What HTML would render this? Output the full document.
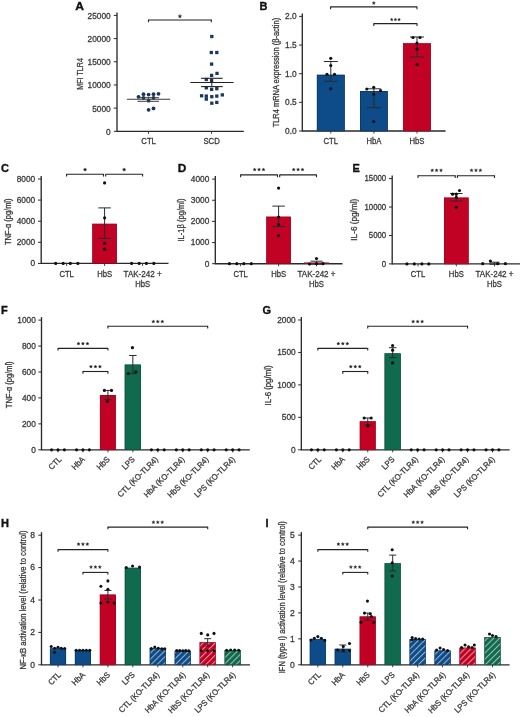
<!DOCTYPE html>
<html><head><meta charset="utf-8"><style>
html,body{margin:0;padding:0;background:#fff;width:520px;height:717px;overflow:hidden;}
svg{display:block;filter:blur(0.3px);font-family:"Liberation Sans", sans-serif;}
text{stroke:#3a3a3a;stroke-width:0.3px;}
</style></head><body>
<svg width="520" height="717" viewBox="0 0 520 717" font-family='"Liberation Sans", sans-serif'>
<defs><pattern id="hb" patternUnits="userSpaceOnUse" width="4.3" height="10" patternTransform="rotate(45)"><rect width="1.0" height="10" fill="#fff" fill-opacity="0.6"/></pattern></defs>
<rect width="520" height="717" fill="#fff"/>
<text transform="translate(75.30,10.20) scale(1.1,1)" font-size="11" text-anchor="start" font-weight="bold" fill="#111" style="stroke:#111;stroke-width:0.35px">A</text>
<line x1="117.00" y1="12.40" x2="117.00" y2="131.80" stroke="#2a2a2a" stroke-width="1.35"/>
<line x1="113.80" y1="131.30" x2="117.00" y2="131.30" stroke="#2a2a2a" stroke-width="1.0"/>
<text transform="translate(110.70,134.70) scale(0.95,1)" font-size="8.774" text-anchor="end" font-weight="normal" fill="#3a3a3a" >0</text>
<line x1="113.80" y1="108.12" x2="117.00" y2="108.12" stroke="#2a2a2a" stroke-width="1.0"/>
<text transform="translate(110.70,111.52) scale(0.95,1)" font-size="8.774" text-anchor="end" font-weight="normal" fill="#3a3a3a" >5000</text>
<line x1="113.80" y1="84.94" x2="117.00" y2="84.94" stroke="#2a2a2a" stroke-width="1.0"/>
<text transform="translate(110.70,88.34) scale(0.95,1)" font-size="8.774" text-anchor="end" font-weight="normal" fill="#3a3a3a" >10000</text>
<line x1="113.80" y1="61.76" x2="117.00" y2="61.76" stroke="#2a2a2a" stroke-width="1.0"/>
<text transform="translate(110.70,65.16) scale(0.95,1)" font-size="8.774" text-anchor="end" font-weight="normal" fill="#3a3a3a" >15000</text>
<line x1="113.80" y1="38.58" x2="117.00" y2="38.58" stroke="#2a2a2a" stroke-width="1.0"/>
<text transform="translate(110.70,41.98) scale(0.95,1)" font-size="8.774" text-anchor="end" font-weight="normal" fill="#3a3a3a" >20000</text>
<line x1="113.80" y1="15.40" x2="117.00" y2="15.40" stroke="#2a2a2a" stroke-width="1.0"/>
<text transform="translate(110.70,18.80) scale(0.95,1)" font-size="8.774" text-anchor="end" font-weight="normal" fill="#3a3a3a" >25000</text>
<line x1="117.00" y1="131.30" x2="243.80" y2="131.30" stroke="#2a2a2a" stroke-width="1.35"/>
<line x1="148.50" y1="131.30" x2="148.50" y2="133.80" stroke="#2a2a2a" stroke-width="0.9"/>
<line x1="211.50" y1="131.30" x2="211.50" y2="133.80" stroke="#2a2a2a" stroke-width="0.9"/>
<text transform="translate(148.60,144.20) scale(0.9,1)" font-size="8.6" text-anchor="middle" font-weight="normal" fill="#3a3a3a" >CTL</text>
<text transform="translate(211.60,144.20) scale(0.9,1)" font-size="8.6" text-anchor="middle" font-weight="normal" fill="#3a3a3a" >SCD</text>
<text transform="translate(79.90,73.90) rotate(-90)" x="-15.75" y="0" font-size="8.8" text-anchor="start" dominant-baseline="central" fill="#3a3a3a" textLength="31.5" lengthAdjust="spacingAndGlyphs">MFI TLR4</text>
<line x1="148.50" y1="20.00" x2="211.30" y2="20.00" stroke="#222" stroke-width="1.1"/>
<line x1="148.50" y1="19.60" x2="148.50" y2="22.20" stroke="#222" stroke-width="1.1"/>
<line x1="211.30" y1="19.60" x2="211.30" y2="22.20" stroke="#222" stroke-width="1.1"/>
<polygon points="179.90,14.47 180.38,15.63 181.64,15.73 180.68,16.55 180.98,17.78 179.90,17.12 178.82,17.78 179.12,16.55 178.16,15.73 179.42,15.63" fill="#222" stroke="#222" stroke-width="0.42" stroke-linejoin="round"/>
<circle cx="143.50" cy="94.20" r="1.9" fill="#19365f"/>
<circle cx="148.60" cy="94.60" r="1.9" fill="#19365f"/>
<circle cx="153.50" cy="94.20" r="1.9" fill="#19365f"/>
<circle cx="158.50" cy="93.80" r="1.9" fill="#19365f"/>
<circle cx="138.50" cy="96.80" r="1.9" fill="#19365f"/>
<circle cx="143.50" cy="97.80" r="1.9" fill="#19365f"/>
<circle cx="148.60" cy="100.70" r="1.9" fill="#19365f"/>
<circle cx="153.50" cy="97.80" r="1.9" fill="#19365f"/>
<circle cx="148.60" cy="109.80" r="1.9" fill="#19365f"/>
<circle cx="153.50" cy="108.40" r="1.9" fill="#19365f"/>
<line x1="126.90" y1="99.20" x2="170.20" y2="99.20" stroke="#3a3a3a" stroke-width="1.1"/>
<line x1="137.50" y1="97.70" x2="159.10" y2="97.70" stroke="#3a3a3a" stroke-width="1.0"/>
<line x1="137.50" y1="101.30" x2="159.10" y2="101.30" stroke="#3a3a3a" stroke-width="1.0"/>
<line x1="148.50" y1="97.70" x2="148.50" y2="101.30" stroke="#3a3a3a" stroke-width="1.0"/>
<rect x="210.15" y="34.85" width="3.3" height="3.3" fill="#19365f"/>
<rect x="209.65" y="50.85" width="3.3" height="3.3" fill="#19365f"/>
<rect x="215.15" y="50.85" width="3.3" height="3.3" fill="#19365f"/>
<rect x="209.95" y="62.45" width="3.3" height="3.3" fill="#19365f"/>
<rect x="209.95" y="73.75" width="3.3" height="3.3" fill="#19365f"/>
<rect x="215.35" y="71.75" width="3.3" height="3.3" fill="#19365f"/>
<rect x="204.65" y="77.85" width="3.3" height="3.3" fill="#19365f"/>
<rect x="209.95" y="79.05" width="3.3" height="3.3" fill="#19365f"/>
<rect x="204.65" y="86.15" width="3.3" height="3.3" fill="#19365f"/>
<rect x="209.95" y="87.75" width="3.3" height="3.3" fill="#19365f"/>
<rect x="215.15" y="87.05" width="3.3" height="3.3" fill="#19365f"/>
<rect x="199.95" y="94.15" width="3.3" height="3.3" fill="#19365f"/>
<rect x="204.65" y="94.45" width="3.3" height="3.3" fill="#19365f"/>
<rect x="204.65" y="97.45" width="3.3" height="3.3" fill="#19365f"/>
<rect x="210.15" y="95.05" width="3.3" height="3.3" fill="#19365f"/>
<rect x="215.15" y="94.45" width="3.3" height="3.3" fill="#19365f"/>
<rect x="220.65" y="93.25" width="3.3" height="3.3" fill="#19365f"/>
<rect x="210.15" y="101.55" width="3.3" height="3.3" fill="#19365f"/>
<rect x="215.15" y="100.75" width="3.3" height="3.3" fill="#19365f"/>
<line x1="190.30" y1="82.50" x2="233.60" y2="82.50" stroke="#222" stroke-width="1.1"/>
<line x1="201.00" y1="78.30" x2="222.70" y2="78.30" stroke="#222" stroke-width="1.1"/>
<line x1="201.00" y1="86.60" x2="222.70" y2="86.60" stroke="#222" stroke-width="1.1"/>
<line x1="211.80" y1="78.30" x2="211.80" y2="86.60" stroke="#222" stroke-width="1.0"/>
<text x="259.40" y="9.70" font-size="11" text-anchor="start" font-weight="bold" fill="#111" style="stroke:#111;stroke-width:0.35px">B</text>
<line x1="302.30" y1="13.40" x2="302.30" y2="131.50" stroke="#2a2a2a" stroke-width="1.35"/>
<line x1="299.10" y1="131.00" x2="302.30" y2="131.00" stroke="#2a2a2a" stroke-width="1.0"/>
<text transform="translate(296.60,133.80) scale(0.95,1)" font-size="8.774" text-anchor="end" font-weight="normal" fill="#3a3a3a" >0.0</text>
<line x1="299.10" y1="102.35" x2="302.30" y2="102.35" stroke="#2a2a2a" stroke-width="1.0"/>
<text transform="translate(296.60,105.15) scale(0.95,1)" font-size="8.774" text-anchor="end" font-weight="normal" fill="#3a3a3a" >0.5</text>
<line x1="299.10" y1="73.70" x2="302.30" y2="73.70" stroke="#2a2a2a" stroke-width="1.0"/>
<text transform="translate(296.60,76.50) scale(0.95,1)" font-size="8.774" text-anchor="end" font-weight="normal" fill="#3a3a3a" >1.0</text>
<line x1="299.10" y1="45.05" x2="302.30" y2="45.05" stroke="#2a2a2a" stroke-width="1.0"/>
<text transform="translate(296.60,47.85) scale(0.95,1)" font-size="8.774" text-anchor="end" font-weight="normal" fill="#3a3a3a" >1.5</text>
<line x1="299.10" y1="16.40" x2="302.30" y2="16.40" stroke="#2a2a2a" stroke-width="1.0"/>
<text transform="translate(296.60,19.20) scale(0.95,1)" font-size="8.774" text-anchor="end" font-weight="normal" fill="#3a3a3a" >2.0</text>
<line x1="302.30" y1="131.00" x2="445.60" y2="131.00" stroke="#2a2a2a" stroke-width="1.35"/>
<line x1="330.80" y1="131.00" x2="330.80" y2="133.50" stroke="#2a2a2a" stroke-width="0.9"/>
<line x1="373.90" y1="131.00" x2="373.90" y2="133.50" stroke="#2a2a2a" stroke-width="0.9"/>
<line x1="417.00" y1="131.00" x2="417.00" y2="133.50" stroke="#2a2a2a" stroke-width="0.9"/>
<rect x="316.90" y="74.80" width="27.80" height="56.20" fill="#0d4c88"/>
<rect x="317.20" y="75.10" width="27.20" height="55.90" fill="none" stroke="#0a3058" stroke-width="0.6"/>
<rect x="360.00" y="91.00" width="27.80" height="40.00" fill="#0d4c88"/>
<rect x="360.30" y="91.30" width="27.20" height="39.70" fill="none" stroke="#0a3058" stroke-width="0.6"/>
<rect x="403.10" y="43.30" width="27.80" height="87.70" fill="#c10224"/>
<rect x="403.40" y="43.60" width="27.20" height="87.40" fill="none" stroke="#8e0a22" stroke-width="0.6"/>
<text transform="translate(330.80,144.30) scale(0.88,1)" font-size="8.8" text-anchor="middle" font-weight="normal" fill="#3a3a3a" >CTL</text>
<text transform="translate(373.90,144.30) scale(0.88,1)" font-size="8.8" text-anchor="middle" font-weight="normal" fill="#3a3a3a" >HbA</text>
<text transform="translate(417.00,144.30) scale(0.88,1)" font-size="8.8" text-anchor="middle" font-weight="normal" fill="#3a3a3a" >HbS</text>
<text transform="translate(276.00,72.60) rotate(-90)" x="-54.75" y="0" font-size="8.8" text-anchor="start" dominant-baseline="central" fill="#3a3a3a" textLength="109.5" lengthAdjust="spacingAndGlyphs">TLR4 mRNA expression (β-actin)</text>
<line x1="330.80" y1="61.50" x2="330.80" y2="81.30" stroke="#2a2a2a" stroke-width="1.0"/>
<line x1="323.80" y1="61.50" x2="337.80" y2="61.50" stroke="#2a2a2a" stroke-width="1.0"/>
<line x1="323.80" y1="81.30" x2="337.80" y2="81.30" stroke="#2a2a2a" stroke-width="1.0"/>
<line x1="373.90" y1="88.80" x2="373.90" y2="107.70" stroke="#2a2a2a" stroke-width="1.0"/>
<line x1="366.90" y1="88.80" x2="380.90" y2="88.80" stroke="#2a2a2a" stroke-width="1.0"/>
<line x1="366.90" y1="107.70" x2="380.90" y2="107.70" stroke="#2a2a2a" stroke-width="1.0"/>
<line x1="417.00" y1="37.00" x2="417.00" y2="57.00" stroke="#2a2a2a" stroke-width="1.0"/>
<line x1="410.00" y1="37.00" x2="424.00" y2="37.00" stroke="#2a2a2a" stroke-width="1.0"/>
<line x1="410.00" y1="57.00" x2="424.00" y2="57.00" stroke="#2a2a2a" stroke-width="1.0"/>
<circle cx="330.75" cy="58.30" r="1.6" fill="#111"/>
<circle cx="330.75" cy="65.50" r="1.6" fill="#111"/>
<circle cx="327.00" cy="74.30" r="1.6" fill="#111"/>
<circle cx="334.50" cy="74.30" r="1.6" fill="#111"/>
<circle cx="330.75" cy="88.80" r="1.6" fill="#111"/>
<circle cx="366.80" cy="89.00" r="1.6" fill="#111"/>
<circle cx="373.70" cy="87.30" r="1.6" fill="#111"/>
<circle cx="380.60" cy="90.70" r="1.6" fill="#111"/>
<circle cx="373.70" cy="94.20" r="1.6" fill="#111"/>
<circle cx="373.70" cy="121.50" r="1.6" fill="#111"/>
<circle cx="413.00" cy="37.50" r="1.6" fill="#111"/>
<circle cx="420.00" cy="37.50" r="1.6" fill="#111"/>
<circle cx="417.00" cy="43.00" r="1.6" fill="#111"/>
<circle cx="417.00" cy="49.00" r="1.6" fill="#111"/>
<circle cx="417.00" cy="64.50" r="1.6" fill="#111"/>
<line x1="330.60" y1="6.90" x2="417.00" y2="6.90" stroke="#222" stroke-width="1.1"/>
<line x1="330.60" y1="6.50" x2="330.60" y2="9.30" stroke="#222" stroke-width="1.1"/>
<line x1="417.00" y1="6.50" x2="417.00" y2="9.30" stroke="#222" stroke-width="1.1"/>
<polygon points="373.80,1.40 374.24,2.45 375.37,2.54 374.50,3.28 374.77,4.38 373.80,3.79 372.83,4.38 373.10,3.28 372.23,2.54 373.36,2.45" fill="#222" stroke="#222" stroke-width="0.39" stroke-linejoin="round"/>
<line x1="373.80" y1="23.60" x2="417.00" y2="23.60" stroke="#222" stroke-width="1.1"/>
<line x1="373.80" y1="23.20" x2="373.80" y2="26.00" stroke="#222" stroke-width="1.1"/>
<line x1="417.00" y1="23.20" x2="417.00" y2="26.00" stroke="#222" stroke-width="1.1"/>
<polygon points="391.73,18.09 392.12,19.02 393.12,19.10 392.36,19.75 392.59,20.73 391.73,20.21 390.87,20.73 391.10,19.75 390.34,19.10 391.34,19.02" fill="#222" stroke="#222" stroke-width="0.33" stroke-linejoin="round"/>
<polygon points="395.40,18.09 395.79,19.02 396.79,19.10 396.03,19.75 396.26,20.73 395.40,20.21 394.54,20.73 394.77,19.75 394.01,19.10 395.01,19.02" fill="#222" stroke="#222" stroke-width="0.33" stroke-linejoin="round"/>
<polygon points="399.07,18.09 399.46,19.02 400.46,19.10 399.70,19.75 399.93,20.73 399.07,20.21 398.21,20.73 398.44,19.75 397.68,19.10 398.68,19.02" fill="#222" stroke="#222" stroke-width="0.33" stroke-linejoin="round"/>
<text x="0.90" y="172.00" font-size="11" text-anchor="start" font-weight="bold" fill="#111" style="stroke:#111;stroke-width:0.35px">C</text>
<line x1="41.20" y1="176.00" x2="41.20" y2="263.90" stroke="#2a2a2a" stroke-width="1.35"/>
<line x1="38.00" y1="263.40" x2="41.20" y2="263.40" stroke="#2a2a2a" stroke-width="1.0"/>
<text transform="translate(35.20,266.20) scale(0.95,1)" font-size="8.774" text-anchor="end" font-weight="normal" fill="#3a3a3a" >0</text>
<line x1="38.00" y1="242.30" x2="41.20" y2="242.30" stroke="#2a2a2a" stroke-width="1.0"/>
<text transform="translate(35.20,245.10) scale(0.95,1)" font-size="8.774" text-anchor="end" font-weight="normal" fill="#3a3a3a" >2000</text>
<line x1="38.00" y1="221.20" x2="41.20" y2="221.20" stroke="#2a2a2a" stroke-width="1.0"/>
<text transform="translate(35.20,224.00) scale(0.95,1)" font-size="8.774" text-anchor="end" font-weight="normal" fill="#3a3a3a" >4000</text>
<line x1="38.00" y1="200.10" x2="41.20" y2="200.10" stroke="#2a2a2a" stroke-width="1.0"/>
<text transform="translate(35.20,202.90) scale(0.95,1)" font-size="8.774" text-anchor="end" font-weight="normal" fill="#3a3a3a" >6000</text>
<line x1="38.00" y1="179.00" x2="41.20" y2="179.00" stroke="#2a2a2a" stroke-width="1.0"/>
<text transform="translate(35.20,181.80) scale(0.95,1)" font-size="8.774" text-anchor="end" font-weight="normal" fill="#3a3a3a" >8000</text>
<line x1="41.20" y1="263.40" x2="168.50" y2="263.40" stroke="#2a2a2a" stroke-width="1.35"/>
<line x1="66.60" y1="263.40" x2="66.60" y2="265.90" stroke="#2a2a2a" stroke-width="0.9"/>
<line x1="104.60" y1="263.40" x2="104.60" y2="265.90" stroke="#2a2a2a" stroke-width="0.9"/>
<line x1="142.60" y1="263.40" x2="142.60" y2="265.90" stroke="#2a2a2a" stroke-width="0.9"/>
<rect x="92.30" y="223.80" width="24.60" height="39.60" fill="#c10224"/>
<rect x="92.60" y="224.10" width="24.00" height="39.30" fill="none" stroke="#8e0a22" stroke-width="0.6"/>
<line x1="104.60" y1="207.90" x2="104.60" y2="238.40" stroke="#2a2a2a" stroke-width="1.0"/>
<line x1="98.35" y1="207.90" x2="110.85" y2="207.90" stroke="#2a2a2a" stroke-width="1.0"/>
<line x1="98.35" y1="238.40" x2="110.85" y2="238.40" stroke="#2a2a2a" stroke-width="1.0"/>
<circle cx="104.60" cy="182.90" r="1.6" fill="#111"/>
<circle cx="104.60" cy="217.80" r="1.6" fill="#111"/>
<circle cx="104.60" cy="243.30" r="1.6" fill="#111"/>
<circle cx="104.60" cy="249.20" r="1.6" fill="#111"/>
<circle cx="55.70" cy="263.40" r="1.6" fill="#111"/>
<circle cx="63.20" cy="263.40" r="1.6" fill="#111"/>
<circle cx="70.30" cy="263.40" r="1.6" fill="#111"/>
<circle cx="77.90" cy="263.40" r="1.6" fill="#111"/>
<circle cx="131.60" cy="263.40" r="1.6" fill="#111"/>
<circle cx="139.20" cy="263.40" r="1.6" fill="#111"/>
<circle cx="146.40" cy="263.40" r="1.6" fill="#111"/>
<circle cx="153.80" cy="263.40" r="1.6" fill="#111"/>
<text transform="translate(66.60,276.80) scale(0.89,1)" font-size="8.6" text-anchor="middle" font-weight="normal" fill="#3a3a3a" >CTL</text>
<text transform="translate(104.60,276.80) scale(0.89,1)" font-size="8.6" text-anchor="middle" font-weight="normal" fill="#3a3a3a" >HbS</text>
<text x="123.60" y="276.8" font-size="8.6" fill="#3a3a3a" textLength="38" lengthAdjust="spacingAndGlyphs">TAK-242 +</text>
<text transform="translate(142.60,287.00) scale(0.89,1)" font-size="8.6" text-anchor="middle" font-weight="normal" fill="#3a3a3a" >HbS</text>
<text transform="translate(8.40,221.80) rotate(-90)" x="-23.30" y="0" font-size="8.8" text-anchor="start" dominant-baseline="central" fill="#3a3a3a" textLength="46.6" lengthAdjust="spacingAndGlyphs">TNF-α (pg/ml)</text>
<line x1="66.60" y1="174.30" x2="103.50" y2="174.30" stroke="#222" stroke-width="1.1"/>
<line x1="66.60" y1="173.90" x2="66.60" y2="176.60" stroke="#222" stroke-width="1.1"/>
<line x1="103.50" y1="173.90" x2="103.50" y2="176.60" stroke="#222" stroke-width="1.1"/>
<polygon points="85.05,167.88 85.52,169.01 86.73,169.10 85.81,169.90 86.09,171.08 85.05,170.45 84.01,171.08 84.29,169.90 83.37,169.10 84.58,169.01" fill="#222" stroke="#222" stroke-width="0.42" stroke-linejoin="round"/>
<line x1="105.70" y1="174.30" x2="142.60" y2="174.30" stroke="#222" stroke-width="1.1"/>
<line x1="105.70" y1="173.90" x2="105.70" y2="176.60" stroke="#222" stroke-width="1.1"/>
<line x1="142.60" y1="173.90" x2="142.60" y2="176.60" stroke="#222" stroke-width="1.1"/>
<polygon points="124.15,167.88 124.62,169.01 125.83,169.10 124.91,169.90 125.19,171.08 124.15,170.45 123.11,171.08 123.39,169.90 122.47,169.10 123.68,169.01" fill="#222" stroke="#222" stroke-width="0.42" stroke-linejoin="round"/>
<text transform="translate(177.80,172.00) scale(1.08,1)" font-size="11" text-anchor="start" font-weight="bold" fill="#111" style="stroke:#111;stroke-width:0.35px">D</text>
<line x1="215.30" y1="176.10" x2="215.30" y2="264.20" stroke="#2a2a2a" stroke-width="1.35"/>
<line x1="212.10" y1="263.70" x2="215.30" y2="263.70" stroke="#2a2a2a" stroke-width="1.0"/>
<text transform="translate(209.30,266.50) scale(0.95,1)" font-size="8.774" text-anchor="end" font-weight="normal" fill="#3a3a3a" >0</text>
<line x1="212.10" y1="242.55" x2="215.30" y2="242.55" stroke="#2a2a2a" stroke-width="1.0"/>
<text transform="translate(209.30,245.35) scale(0.95,1)" font-size="8.774" text-anchor="end" font-weight="normal" fill="#3a3a3a" >1000</text>
<line x1="212.10" y1="221.40" x2="215.30" y2="221.40" stroke="#2a2a2a" stroke-width="1.0"/>
<text transform="translate(209.30,224.20) scale(0.95,1)" font-size="8.774" text-anchor="end" font-weight="normal" fill="#3a3a3a" >2000</text>
<line x1="212.10" y1="200.25" x2="215.30" y2="200.25" stroke="#2a2a2a" stroke-width="1.0"/>
<text transform="translate(209.30,203.05) scale(0.95,1)" font-size="8.774" text-anchor="end" font-weight="normal" fill="#3a3a3a" >3000</text>
<line x1="212.10" y1="179.10" x2="215.30" y2="179.10" stroke="#2a2a2a" stroke-width="1.0"/>
<text transform="translate(209.30,181.90) scale(0.95,1)" font-size="8.774" text-anchor="end" font-weight="normal" fill="#3a3a3a" >4000</text>
<line x1="215.30" y1="263.70" x2="342.50" y2="263.70" stroke="#2a2a2a" stroke-width="1.35"/>
<line x1="240.60" y1="263.70" x2="240.60" y2="266.20" stroke="#2a2a2a" stroke-width="0.9"/>
<line x1="278.60" y1="263.70" x2="278.60" y2="266.20" stroke="#2a2a2a" stroke-width="0.9"/>
<line x1="316.50" y1="263.70" x2="316.50" y2="266.20" stroke="#2a2a2a" stroke-width="0.9"/>
<rect x="266.30" y="216.70" width="24.60" height="47.00" fill="#c10224"/>
<rect x="266.60" y="217.00" width="24.00" height="46.70" fill="none" stroke="#8e0a22" stroke-width="0.6"/>
<rect x="304.00" y="262.40" width="25.00" height="1.30" fill="#9a1a30"/>
<line x1="316.50" y1="261.20" x2="316.50" y2="264.20" stroke="#2a2a2a" stroke-width="1.0"/>
<line x1="310.50" y1="261.20" x2="322.50" y2="261.20" stroke="#2a2a2a" stroke-width="1.0"/>
<line x1="310.50" y1="264.20" x2="322.50" y2="264.20" stroke="#2a2a2a" stroke-width="1.0"/>
<line x1="278.60" y1="206.10" x2="278.60" y2="226.60" stroke="#2a2a2a" stroke-width="1.0"/>
<line x1="272.35" y1="206.10" x2="284.85" y2="206.10" stroke="#2a2a2a" stroke-width="1.0"/>
<line x1="272.35" y1="226.60" x2="284.85" y2="226.60" stroke="#2a2a2a" stroke-width="1.0"/>
<circle cx="278.60" cy="188.10" r="1.6" fill="#111"/>
<circle cx="278.60" cy="217.10" r="1.6" fill="#111"/>
<circle cx="278.60" cy="224.50" r="1.6" fill="#111"/>
<circle cx="278.60" cy="235.70" r="1.6" fill="#111"/>
<circle cx="229.40" cy="263.70" r="1.6" fill="#111"/>
<circle cx="236.80" cy="263.70" r="1.6" fill="#111"/>
<circle cx="243.80" cy="263.70" r="1.6" fill="#111"/>
<circle cx="251.30" cy="263.70" r="1.6" fill="#111"/>
<circle cx="309.50" cy="264.00" r="1.6" fill="#111"/>
<circle cx="316.50" cy="258.50" r="1.6" fill="#111"/>
<circle cx="316.50" cy="263.70" r="1.6" fill="#111"/>
<circle cx="323.00" cy="263.70" r="1.6" fill="#111"/>
<text transform="translate(240.60,276.80) scale(0.89,1)" font-size="8.6" text-anchor="middle" font-weight="normal" fill="#3a3a3a" >CTL</text>
<text transform="translate(278.60,276.80) scale(0.89,1)" font-size="8.6" text-anchor="middle" font-weight="normal" fill="#3a3a3a" >HbS</text>
<text x="297.50" y="276.8" font-size="8.6" fill="#3a3a3a" textLength="38" lengthAdjust="spacingAndGlyphs">TAK-242 +</text>
<text transform="translate(316.50,287.00) scale(0.89,1)" font-size="8.6" text-anchor="middle" font-weight="normal" fill="#3a3a3a" >HbS</text>
<text transform="translate(181.40,220.00) rotate(-90)" x="-21.50" y="0" font-size="8.8" text-anchor="start" dominant-baseline="central" fill="#3a3a3a" textLength="43" lengthAdjust="spacingAndGlyphs">IL-1β (pg/ml)</text>
<line x1="240.60" y1="174.90" x2="277.50" y2="174.90" stroke="#222" stroke-width="1.1"/>
<line x1="240.60" y1="174.50" x2="240.60" y2="177.20" stroke="#222" stroke-width="1.1"/>
<line x1="277.50" y1="174.50" x2="277.50" y2="177.20" stroke="#222" stroke-width="1.1"/>
<polygon points="254.65,167.90 255.09,168.95 256.22,169.04 255.35,169.78 255.62,170.88 254.65,170.29 253.68,170.88 253.95,169.78 253.08,169.04 254.21,168.95" fill="#222" stroke="#222" stroke-width="0.35" stroke-linejoin="round"/>
<polygon points="259.05,167.90 259.49,168.95 260.62,169.04 259.75,169.78 260.02,170.88 259.05,170.29 258.08,170.88 258.35,169.78 257.48,169.04 258.61,168.95" fill="#222" stroke="#222" stroke-width="0.35" stroke-linejoin="round"/>
<polygon points="263.45,167.90 263.89,168.95 265.02,169.04 264.15,169.78 264.42,170.88 263.45,170.29 262.48,170.88 262.75,169.78 261.88,169.04 263.01,168.95" fill="#222" stroke="#222" stroke-width="0.35" stroke-linejoin="round"/>
<line x1="279.70" y1="174.90" x2="316.50" y2="174.90" stroke="#222" stroke-width="1.1"/>
<line x1="279.70" y1="174.50" x2="279.70" y2="177.20" stroke="#222" stroke-width="1.1"/>
<line x1="316.50" y1="174.50" x2="316.50" y2="177.20" stroke="#222" stroke-width="1.1"/>
<polygon points="293.70,167.90 294.14,168.95 295.27,169.04 294.40,169.78 294.67,170.88 293.70,170.29 292.73,170.88 293.00,169.78 292.13,169.04 293.26,168.95" fill="#222" stroke="#222" stroke-width="0.35" stroke-linejoin="round"/>
<polygon points="298.10,167.90 298.54,168.95 299.67,169.04 298.80,169.78 299.07,170.88 298.10,170.29 297.13,170.88 297.40,169.78 296.53,169.04 297.66,168.95" fill="#222" stroke="#222" stroke-width="0.35" stroke-linejoin="round"/>
<polygon points="302.50,167.90 302.94,168.95 304.07,169.04 303.20,169.78 303.47,170.88 302.50,170.29 301.53,170.88 301.80,169.78 300.93,169.04 302.06,168.95" fill="#222" stroke="#222" stroke-width="0.35" stroke-linejoin="round"/>
<text x="352.40" y="172.00" font-size="11" text-anchor="start" font-weight="bold" fill="#111" style="stroke:#111;stroke-width:0.35px">E</text>
<line x1="392.20" y1="175.61" x2="392.20" y2="264.40" stroke="#2a2a2a" stroke-width="1.35"/>
<line x1="389.00" y1="263.90" x2="392.20" y2="263.90" stroke="#2a2a2a" stroke-width="1.0"/>
<text transform="translate(386.20,266.70) scale(0.95,1)" font-size="8.239" text-anchor="end" font-weight="normal" fill="#3a3a3a" >0</text>
<line x1="389.00" y1="235.47" x2="392.20" y2="235.47" stroke="#2a2a2a" stroke-width="1.0"/>
<text transform="translate(386.20,238.27) scale(0.95,1)" font-size="8.239" text-anchor="end" font-weight="normal" fill="#3a3a3a" >5000</text>
<line x1="389.00" y1="207.04" x2="392.20" y2="207.04" stroke="#2a2a2a" stroke-width="1.0"/>
<text transform="translate(386.20,209.84) scale(0.95,1)" font-size="8.239" text-anchor="end" font-weight="normal" fill="#3a3a3a" >10000</text>
<line x1="389.00" y1="178.61" x2="392.20" y2="178.61" stroke="#2a2a2a" stroke-width="1.0"/>
<text transform="translate(386.20,181.41) scale(0.95,1)" font-size="8.239" text-anchor="end" font-weight="normal" fill="#3a3a3a" >15000</text>
<line x1="392.20" y1="263.90" x2="520.00" y2="263.90" stroke="#2a2a2a" stroke-width="1.35"/>
<line x1="418.00" y1="263.90" x2="418.00" y2="266.40" stroke="#2a2a2a" stroke-width="0.9"/>
<line x1="456.30" y1="263.90" x2="456.30" y2="266.40" stroke="#2a2a2a" stroke-width="0.9"/>
<line x1="494.50" y1="263.90" x2="494.50" y2="266.40" stroke="#2a2a2a" stroke-width="0.9"/>
<rect x="444.00" y="197.60" width="24.60" height="66.30" fill="#c10224"/>
<rect x="444.30" y="197.90" width="24.00" height="66.00" fill="none" stroke="#8e0a22" stroke-width="0.6"/>
<line x1="494.50" y1="262.20" x2="494.50" y2="264.20" stroke="#2a2a2a" stroke-width="1.0"/>
<line x1="489.50" y1="262.20" x2="499.50" y2="262.20" stroke="#2a2a2a" stroke-width="1.0"/>
<line x1="489.50" y1="264.20" x2="499.50" y2="264.20" stroke="#2a2a2a" stroke-width="1.0"/>
<line x1="456.30" y1="193.50" x2="456.30" y2="201.10" stroke="#2a2a2a" stroke-width="1.0"/>
<line x1="450.05" y1="193.50" x2="462.55" y2="193.50" stroke="#2a2a2a" stroke-width="1.0"/>
<line x1="450.05" y1="201.10" x2="462.55" y2="201.10" stroke="#2a2a2a" stroke-width="1.0"/>
<circle cx="456.30" cy="194.20" r="1.6" fill="#111"/>
<circle cx="456.30" cy="197.40" r="1.6" fill="#111"/>
<circle cx="456.30" cy="207.30" r="1.6" fill="#111"/>
<circle cx="406.90" cy="263.90" r="1.6" fill="#111"/>
<circle cx="414.30" cy="263.90" r="1.6" fill="#111"/>
<circle cx="421.90" cy="263.90" r="1.6" fill="#111"/>
<circle cx="428.80" cy="263.90" r="1.6" fill="#111"/>
<circle cx="482.70" cy="263.70" r="1.6" fill="#111"/>
<circle cx="490.40" cy="261.00" r="1.6" fill="#111"/>
<circle cx="497.70" cy="263.70" r="1.6" fill="#111"/>
<circle cx="505.40" cy="263.70" r="1.6" fill="#111"/>
<text transform="translate(418.00,276.80) scale(0.89,1)" font-size="8.6" text-anchor="middle" font-weight="normal" fill="#3a3a3a" >CTL</text>
<text transform="translate(456.30,276.80) scale(0.89,1)" font-size="8.6" text-anchor="middle" font-weight="normal" fill="#3a3a3a" >HbS</text>
<text x="475.50" y="276.8" font-size="8.6" fill="#3a3a3a" textLength="38" lengthAdjust="spacingAndGlyphs">TAK-242 +</text>
<text transform="translate(494.50,287.00) scale(0.89,1)" font-size="8.6" text-anchor="middle" font-weight="normal" fill="#3a3a3a" >HbS</text>
<text transform="translate(353.90,219.70) rotate(-90)" x="-21.00" y="0" font-size="8.8" text-anchor="start" dominant-baseline="central" fill="#3a3a3a" textLength="42" lengthAdjust="spacingAndGlyphs">IL-6 (pg/ml)</text>
<line x1="418.00" y1="175.70" x2="455.20" y2="175.70" stroke="#222" stroke-width="1.1"/>
<line x1="418.00" y1="175.30" x2="418.00" y2="178.00" stroke="#222" stroke-width="1.1"/>
<line x1="455.20" y1="175.30" x2="455.20" y2="178.00" stroke="#222" stroke-width="1.1"/>
<polygon points="432.20,168.70 432.64,169.75 433.77,169.84 432.90,170.58 433.17,171.68 432.20,171.09 431.23,171.68 431.50,170.58 430.63,169.84 431.76,169.75" fill="#222" stroke="#222" stroke-width="0.35" stroke-linejoin="round"/>
<polygon points="436.60,168.70 437.04,169.75 438.17,169.84 437.30,170.58 437.57,171.68 436.60,171.09 435.63,171.68 435.90,170.58 435.03,169.84 436.16,169.75" fill="#222" stroke="#222" stroke-width="0.35" stroke-linejoin="round"/>
<polygon points="441.00,168.70 441.44,169.75 442.57,169.84 441.70,170.58 441.97,171.68 441.00,171.09 440.03,171.68 440.30,170.58 439.43,169.84 440.56,169.75" fill="#222" stroke="#222" stroke-width="0.35" stroke-linejoin="round"/>
<line x1="457.40" y1="175.70" x2="494.50" y2="175.70" stroke="#222" stroke-width="1.1"/>
<line x1="457.40" y1="175.30" x2="457.40" y2="178.00" stroke="#222" stroke-width="1.1"/>
<line x1="494.50" y1="175.30" x2="494.50" y2="178.00" stroke="#222" stroke-width="1.1"/>
<polygon points="471.55,168.70 471.99,169.75 473.12,169.84 472.25,170.58 472.52,171.68 471.55,171.09 470.58,171.68 470.85,170.58 469.98,169.84 471.11,169.75" fill="#222" stroke="#222" stroke-width="0.35" stroke-linejoin="round"/>
<polygon points="475.95,168.70 476.39,169.75 477.52,169.84 476.65,170.58 476.92,171.68 475.95,171.09 474.98,171.68 475.25,170.58 474.38,169.84 475.51,169.75" fill="#222" stroke="#222" stroke-width="0.35" stroke-linejoin="round"/>
<polygon points="480.35,168.70 480.79,169.75 481.92,169.84 481.05,170.58 481.32,171.68 480.35,171.09 479.38,171.68 479.65,170.58 478.78,169.84 479.91,169.75" fill="#222" stroke="#222" stroke-width="0.35" stroke-linejoin="round"/>
<circle cx="459.50" cy="190.50" r="1.6" fill="#111"/>
<circle cx="452.60" cy="194.20" r="1.6" fill="#111"/>
<text x="0.90" y="313.80" font-size="11" text-anchor="start" font-weight="bold" fill="#111" style="stroke:#111;stroke-width:0.35px">F</text>
<line x1="41.50" y1="317.10" x2="41.50" y2="450.30" stroke="#2a2a2a" stroke-width="1.35"/>
<line x1="38.30" y1="449.80" x2="41.50" y2="449.80" stroke="#2a2a2a" stroke-width="1.0"/>
<text transform="translate(35.80,452.60) scale(0.95,1)" font-size="8.774" text-anchor="end" font-weight="normal" fill="#3a3a3a" >0</text>
<line x1="38.30" y1="423.86" x2="41.50" y2="423.86" stroke="#2a2a2a" stroke-width="1.0"/>
<text transform="translate(35.80,426.66) scale(0.95,1)" font-size="8.774" text-anchor="end" font-weight="normal" fill="#3a3a3a" >200</text>
<line x1="38.30" y1="397.92" x2="41.50" y2="397.92" stroke="#2a2a2a" stroke-width="1.0"/>
<text transform="translate(35.80,400.72) scale(0.95,1)" font-size="8.774" text-anchor="end" font-weight="normal" fill="#3a3a3a" >400</text>
<line x1="38.30" y1="371.98" x2="41.50" y2="371.98" stroke="#2a2a2a" stroke-width="1.0"/>
<text transform="translate(35.80,374.78) scale(0.95,1)" font-size="8.774" text-anchor="end" font-weight="normal" fill="#3a3a3a" >600</text>
<line x1="38.30" y1="346.04" x2="41.50" y2="346.04" stroke="#2a2a2a" stroke-width="1.0"/>
<text transform="translate(35.80,348.84) scale(0.95,1)" font-size="8.774" text-anchor="end" font-weight="normal" fill="#3a3a3a" >800</text>
<line x1="38.30" y1="320.10" x2="41.50" y2="320.10" stroke="#2a2a2a" stroke-width="1.0"/>
<text transform="translate(35.80,322.90) scale(0.95,1)" font-size="8.774" text-anchor="end" font-weight="normal" fill="#3a3a3a" >1000</text>
<line x1="41.50" y1="449.80" x2="249.80" y2="449.80" stroke="#2a2a2a" stroke-width="1.35"/>
<line x1="58.00" y1="449.80" x2="58.00" y2="452.30" stroke="#2a2a2a" stroke-width="0.9"/>
<line x1="82.95" y1="449.80" x2="82.95" y2="452.30" stroke="#2a2a2a" stroke-width="0.9"/>
<line x1="107.90" y1="449.80" x2="107.90" y2="452.30" stroke="#2a2a2a" stroke-width="0.9"/>
<line x1="132.85" y1="449.80" x2="132.85" y2="452.30" stroke="#2a2a2a" stroke-width="0.9"/>
<line x1="157.80" y1="449.80" x2="157.80" y2="452.30" stroke="#2a2a2a" stroke-width="0.9"/>
<line x1="182.75" y1="449.80" x2="182.75" y2="452.30" stroke="#2a2a2a" stroke-width="0.9"/>
<line x1="207.70" y1="449.80" x2="207.70" y2="452.30" stroke="#2a2a2a" stroke-width="0.9"/>
<line x1="232.65" y1="449.80" x2="232.65" y2="452.30" stroke="#2a2a2a" stroke-width="0.9"/>
<rect x="99.95" y="395.00" width="15.90" height="54.80" fill="#c10224"/>
<rect x="100.25" y="395.30" width="15.30" height="54.50" fill="none" stroke="#8e0a22" stroke-width="0.6"/>
<rect x="124.75" y="364.60" width="16.20" height="85.20" fill="#0f6a4e"/>
<rect x="125.05" y="364.90" width="15.60" height="84.90" fill="none" stroke="#0a4a37" stroke-width="0.6"/>
<line x1="107.90" y1="390.40" x2="107.90" y2="399.60" stroke="#2a2a2a" stroke-width="1.0"/>
<line x1="104.30" y1="390.40" x2="111.50" y2="390.40" stroke="#2a2a2a" stroke-width="1.0"/>
<line x1="104.30" y1="399.60" x2="111.50" y2="399.60" stroke="#2a2a2a" stroke-width="1.0"/>
<line x1="132.85" y1="355.50" x2="132.85" y2="373.60" stroke="#2a2a2a" stroke-width="1.0"/>
<line x1="129.15" y1="355.50" x2="136.55" y2="355.50" stroke="#2a2a2a" stroke-width="1.0"/>
<line x1="129.15" y1="373.60" x2="136.55" y2="373.60" stroke="#2a2a2a" stroke-width="1.0"/>
<circle cx="104.40" cy="390.40" r="1.6" fill="#111"/>
<circle cx="111.50" cy="390.40" r="1.6" fill="#111"/>
<circle cx="107.40" cy="401.40" r="1.6" fill="#111"/>
<circle cx="132.45" cy="347.70" r="1.6" fill="#111"/>
<circle cx="128.25" cy="373.50" r="1.6" fill="#111"/>
<circle cx="135.85" cy="371.80" r="1.6" fill="#111"/>
<circle cx="51.60" cy="449.80" r="1.6" fill="#111"/>
<circle cx="58.00" cy="449.80" r="1.6" fill="#111"/>
<circle cx="64.40" cy="449.80" r="1.6" fill="#111"/>
<circle cx="76.55" cy="449.80" r="1.6" fill="#111"/>
<circle cx="82.95" cy="449.80" r="1.6" fill="#111"/>
<circle cx="89.35" cy="449.80" r="1.6" fill="#111"/>
<circle cx="151.40" cy="449.80" r="1.6" fill="#111"/>
<circle cx="157.80" cy="449.80" r="1.6" fill="#111"/>
<circle cx="164.20" cy="449.80" r="1.6" fill="#111"/>
<circle cx="176.35" cy="449.80" r="1.6" fill="#111"/>
<circle cx="182.75" cy="449.80" r="1.6" fill="#111"/>
<circle cx="189.15" cy="449.80" r="1.6" fill="#111"/>
<circle cx="201.30" cy="449.80" r="1.6" fill="#111"/>
<circle cx="207.70" cy="449.80" r="1.6" fill="#111"/>
<circle cx="214.10" cy="449.80" r="1.6" fill="#111"/>
<circle cx="226.25" cy="449.80" r="1.6" fill="#111"/>
<circle cx="232.65" cy="449.80" r="1.6" fill="#111"/>
<circle cx="239.05" cy="449.80" r="1.6" fill="#111"/>
<text transform="translate(62.00,460.00) rotate(-45) scale(0.93,1)" x="0" y="0" font-size="8.2" text-anchor="end" fill="#3a3a3a">CTL</text>
<text transform="translate(85.45,460.00) rotate(-45) scale(0.93,1)" x="0" y="0" font-size="8.2" text-anchor="end" fill="#3a3a3a">HbA</text>
<text transform="translate(110.40,460.00) rotate(-45) scale(0.93,1)" x="0" y="0" font-size="8.2" text-anchor="end" fill="#3a3a3a">HbS</text>
<text transform="translate(135.35,460.00) rotate(-45) scale(0.93,1)" x="0" y="0" font-size="8.2" text-anchor="end" fill="#3a3a3a">LPS</text>
<text transform="translate(158.60,460.00) rotate(-45) scale(0.93,1)" x="0" y="0" font-size="8.2" text-anchor="end" fill="#3a3a3a">CTL (KO-TLR4)</text>
<text transform="translate(185.15,460.00) rotate(-45) scale(0.93,1)" x="0" y="0" font-size="8.2" text-anchor="end" fill="#3a3a3a">HbA (KO-TLR4)</text>
<text transform="translate(209.10,460.00) rotate(-45) scale(0.93,1)" x="0" y="0" font-size="8.2" text-anchor="end" fill="#3a3a3a">HbS (KO-TLR4)</text>
<text transform="translate(235.45,460.00) rotate(-45) scale(0.93,1)" x="0" y="0" font-size="8.2" text-anchor="end" fill="#3a3a3a">LPS (KO-TLR4)</text>
<text transform="translate(8.90,384.80) rotate(-90)" x="-23.35" y="0" font-size="8.8" text-anchor="start" dominant-baseline="central" fill="#3a3a3a" textLength="46.7" lengthAdjust="spacingAndGlyphs">TNF-α (pg/ml)</text>
<line x1="58.00" y1="348.40" x2="107.90" y2="348.40" stroke="#222" stroke-width="1.1"/>
<line x1="58.00" y1="348.00" x2="58.00" y2="350.60" stroke="#222" stroke-width="1.1"/>
<line x1="107.90" y1="348.00" x2="107.90" y2="350.60" stroke="#222" stroke-width="1.1"/>
<polygon points="78.45,342.00 78.89,343.05 80.02,343.14 79.15,343.88 79.42,344.98 78.45,344.39 77.48,344.98 77.75,343.88 76.88,343.14 78.01,343.05" fill="#222" stroke="#222" stroke-width="0.35" stroke-linejoin="round"/>
<polygon points="82.95,342.00 83.39,343.05 84.52,343.14 83.65,343.88 83.92,344.98 82.95,344.39 81.98,344.98 82.25,343.88 81.38,343.14 82.51,343.05" fill="#222" stroke="#222" stroke-width="0.35" stroke-linejoin="round"/>
<polygon points="87.45,342.00 87.89,343.05 89.02,343.14 88.15,343.88 88.42,344.98 87.45,344.39 86.48,344.98 86.75,343.88 85.88,343.14 87.01,343.05" fill="#222" stroke="#222" stroke-width="0.35" stroke-linejoin="round"/>
<line x1="82.95" y1="371.50" x2="107.90" y2="371.50" stroke="#222" stroke-width="1.1"/>
<line x1="82.95" y1="371.10" x2="82.95" y2="373.70" stroke="#222" stroke-width="1.1"/>
<line x1="107.90" y1="371.10" x2="107.90" y2="373.70" stroke="#222" stroke-width="1.1"/>
<polygon points="90.93,365.00 91.36,366.05 92.49,366.14 91.63,366.88 91.89,367.98 90.93,367.39 89.96,367.98 90.22,366.88 89.36,366.14 90.49,366.05" fill="#222" stroke="#222" stroke-width="0.35" stroke-linejoin="round"/>
<polygon points="95.43,365.00 95.86,366.05 96.99,366.14 96.13,366.88 96.39,367.98 95.43,367.39 94.46,367.98 94.72,366.88 93.86,366.14 94.99,366.05" fill="#222" stroke="#222" stroke-width="0.35" stroke-linejoin="round"/>
<polygon points="99.93,365.00 100.36,366.05 101.49,366.14 100.63,366.88 100.89,367.98 99.93,367.39 98.96,367.98 99.22,366.88 98.36,366.14 99.49,366.05" fill="#222" stroke="#222" stroke-width="0.35" stroke-linejoin="round"/>
<line x1="107.90" y1="326.20" x2="207.70" y2="326.20" stroke="#222" stroke-width="1.1"/>
<line x1="107.90" y1="325.80" x2="107.90" y2="328.40" stroke="#222" stroke-width="1.1"/>
<line x1="207.70" y1="325.80" x2="207.70" y2="328.40" stroke="#222" stroke-width="1.1"/>
<polygon points="153.30,319.90 153.74,320.95 154.87,321.04 154.00,321.78 154.27,322.88 153.30,322.29 152.33,322.88 152.60,321.78 151.73,321.04 152.86,320.95" fill="#222" stroke="#222" stroke-width="0.35" stroke-linejoin="round"/>
<polygon points="157.80,319.90 158.24,320.95 159.37,321.04 158.50,321.78 158.77,322.88 157.80,322.29 156.83,322.88 157.10,321.78 156.23,321.04 157.36,320.95" fill="#222" stroke="#222" stroke-width="0.35" stroke-linejoin="round"/>
<polygon points="162.30,319.90 162.74,320.95 163.87,321.04 163.00,321.78 163.27,322.88 162.30,322.29 161.33,322.88 161.60,321.78 160.73,321.04 161.86,320.95" fill="#222" stroke="#222" stroke-width="0.35" stroke-linejoin="round"/>
<text x="262.60" y="313.80" font-size="11" text-anchor="start" font-weight="bold" fill="#111" style="stroke:#111;stroke-width:0.35px">G</text>
<line x1="301.35" y1="317.00" x2="301.35" y2="450.30" stroke="#2a2a2a" stroke-width="1.35"/>
<line x1="298.15" y1="449.80" x2="301.35" y2="449.80" stroke="#2a2a2a" stroke-width="1.0"/>
<text transform="translate(295.65,452.60) scale(0.95,1)" font-size="8.774" text-anchor="end" font-weight="normal" fill="#3a3a3a" >0</text>
<line x1="298.15" y1="417.35" x2="301.35" y2="417.35" stroke="#2a2a2a" stroke-width="1.0"/>
<text transform="translate(295.65,420.15) scale(0.95,1)" font-size="8.774" text-anchor="end" font-weight="normal" fill="#3a3a3a" >500</text>
<line x1="298.15" y1="384.90" x2="301.35" y2="384.90" stroke="#2a2a2a" stroke-width="1.0"/>
<text transform="translate(295.65,387.70) scale(0.95,1)" font-size="8.774" text-anchor="end" font-weight="normal" fill="#3a3a3a" >1000</text>
<line x1="298.15" y1="352.45" x2="301.35" y2="352.45" stroke="#2a2a2a" stroke-width="1.0"/>
<text transform="translate(295.65,355.25) scale(0.95,1)" font-size="8.774" text-anchor="end" font-weight="normal" fill="#3a3a3a" >1500</text>
<line x1="298.15" y1="320.00" x2="301.35" y2="320.00" stroke="#2a2a2a" stroke-width="1.0"/>
<text transform="translate(295.65,322.80) scale(0.95,1)" font-size="8.774" text-anchor="end" font-weight="normal" fill="#3a3a3a" >2000</text>
<line x1="301.35" y1="449.80" x2="509.65" y2="449.80" stroke="#2a2a2a" stroke-width="1.35"/>
<line x1="317.85" y1="449.80" x2="317.85" y2="452.30" stroke="#2a2a2a" stroke-width="0.9"/>
<line x1="342.80" y1="449.80" x2="342.80" y2="452.30" stroke="#2a2a2a" stroke-width="0.9"/>
<line x1="367.75" y1="449.80" x2="367.75" y2="452.30" stroke="#2a2a2a" stroke-width="0.9"/>
<line x1="392.70" y1="449.80" x2="392.70" y2="452.30" stroke="#2a2a2a" stroke-width="0.9"/>
<line x1="417.65" y1="449.80" x2="417.65" y2="452.30" stroke="#2a2a2a" stroke-width="0.9"/>
<line x1="442.60" y1="449.80" x2="442.60" y2="452.30" stroke="#2a2a2a" stroke-width="0.9"/>
<line x1="467.55" y1="449.80" x2="467.55" y2="452.30" stroke="#2a2a2a" stroke-width="0.9"/>
<line x1="492.50" y1="449.80" x2="492.50" y2="452.30" stroke="#2a2a2a" stroke-width="0.9"/>
<rect x="359.80" y="421.30" width="15.90" height="28.50" fill="#c10224"/>
<rect x="360.10" y="421.60" width="15.30" height="28.20" fill="none" stroke="#8e0a22" stroke-width="0.6"/>
<rect x="384.60" y="353.40" width="16.20" height="96.40" fill="#0f6a4e"/>
<rect x="384.90" y="353.70" width="15.60" height="96.10" fill="none" stroke="#0a4a37" stroke-width="0.6"/>
<line x1="367.75" y1="418.00" x2="367.75" y2="425.00" stroke="#2a2a2a" stroke-width="1.0"/>
<line x1="364.15" y1="418.00" x2="371.35" y2="418.00" stroke="#2a2a2a" stroke-width="1.0"/>
<line x1="364.15" y1="425.00" x2="371.35" y2="425.00" stroke="#2a2a2a" stroke-width="1.0"/>
<line x1="392.70" y1="347.70" x2="392.70" y2="357.60" stroke="#2a2a2a" stroke-width="1.0"/>
<line x1="389.00" y1="347.70" x2="396.40" y2="347.70" stroke="#2a2a2a" stroke-width="1.0"/>
<line x1="389.00" y1="357.60" x2="396.40" y2="357.60" stroke="#2a2a2a" stroke-width="1.0"/>
<circle cx="364.15" cy="418.00" r="1.6" fill="#111"/>
<circle cx="371.15" cy="418.00" r="1.6" fill="#111"/>
<circle cx="367.85" cy="425.80" r="1.6" fill="#111"/>
<circle cx="392.60" cy="345.50" r="1.6" fill="#111"/>
<circle cx="392.60" cy="350.20" r="1.6" fill="#111"/>
<circle cx="392.60" cy="362.90" r="1.6" fill="#111"/>
<circle cx="311.45" cy="449.80" r="1.6" fill="#111"/>
<circle cx="317.85" cy="449.80" r="1.6" fill="#111"/>
<circle cx="324.25" cy="449.80" r="1.6" fill="#111"/>
<circle cx="336.40" cy="449.80" r="1.6" fill="#111"/>
<circle cx="342.80" cy="449.80" r="1.6" fill="#111"/>
<circle cx="349.20" cy="449.80" r="1.6" fill="#111"/>
<circle cx="411.25" cy="449.80" r="1.6" fill="#111"/>
<circle cx="417.65" cy="449.80" r="1.6" fill="#111"/>
<circle cx="424.05" cy="449.80" r="1.6" fill="#111"/>
<circle cx="436.20" cy="449.80" r="1.6" fill="#111"/>
<circle cx="442.60" cy="449.80" r="1.6" fill="#111"/>
<circle cx="449.00" cy="449.80" r="1.6" fill="#111"/>
<circle cx="461.15" cy="449.80" r="1.6" fill="#111"/>
<circle cx="467.55" cy="449.80" r="1.6" fill="#111"/>
<circle cx="473.95" cy="449.80" r="1.6" fill="#111"/>
<circle cx="486.10" cy="449.80" r="1.6" fill="#111"/>
<circle cx="492.50" cy="449.80" r="1.6" fill="#111"/>
<circle cx="498.90" cy="449.80" r="1.6" fill="#111"/>
<text transform="translate(321.85,460.00) rotate(-45) scale(0.93,1)" x="0" y="0" font-size="8.2" text-anchor="end" fill="#3a3a3a">CTL</text>
<text transform="translate(345.30,460.00) rotate(-45) scale(0.93,1)" x="0" y="0" font-size="8.2" text-anchor="end" fill="#3a3a3a">HbA</text>
<text transform="translate(370.25,460.00) rotate(-45) scale(0.93,1)" x="0" y="0" font-size="8.2" text-anchor="end" fill="#3a3a3a">HbS</text>
<text transform="translate(395.20,460.00) rotate(-45) scale(0.93,1)" x="0" y="0" font-size="8.2" text-anchor="end" fill="#3a3a3a">LPS</text>
<text transform="translate(418.45,460.00) rotate(-45) scale(0.93,1)" x="0" y="0" font-size="8.2" text-anchor="end" fill="#3a3a3a">CTL (KO-TLR4)</text>
<text transform="translate(445.00,460.00) rotate(-45) scale(0.93,1)" x="0" y="0" font-size="8.2" text-anchor="end" fill="#3a3a3a">HbA (KO-TLR4)</text>
<text transform="translate(468.95,460.00) rotate(-45) scale(0.93,1)" x="0" y="0" font-size="8.2" text-anchor="end" fill="#3a3a3a">HbS (KO-TLR4)</text>
<text transform="translate(495.30,460.00) rotate(-45) scale(0.93,1)" x="0" y="0" font-size="8.2" text-anchor="end" fill="#3a3a3a">LPS (KO-TLR4)</text>
<text transform="translate(268.10,385.50) rotate(-90)" x="-20.00" y="0" font-size="8.8" text-anchor="start" dominant-baseline="central" fill="#3a3a3a" textLength="40" lengthAdjust="spacingAndGlyphs">IL-6 (pg/ml)</text>
<line x1="317.85" y1="348.40" x2="367.75" y2="348.40" stroke="#222" stroke-width="1.1"/>
<line x1="317.85" y1="348.00" x2="317.85" y2="350.60" stroke="#222" stroke-width="1.1"/>
<line x1="367.75" y1="348.00" x2="367.75" y2="350.60" stroke="#222" stroke-width="1.1"/>
<polygon points="338.30,342.00 338.74,343.05 339.87,343.14 339.00,343.88 339.27,344.98 338.30,344.39 337.33,344.98 337.60,343.88 336.73,343.14 337.86,343.05" fill="#222" stroke="#222" stroke-width="0.35" stroke-linejoin="round"/>
<polygon points="342.80,342.00 343.24,343.05 344.37,343.14 343.50,343.88 343.77,344.98 342.80,344.39 341.83,344.98 342.10,343.88 341.23,343.14 342.36,343.05" fill="#222" stroke="#222" stroke-width="0.35" stroke-linejoin="round"/>
<polygon points="347.30,342.00 347.74,343.05 348.87,343.14 348.00,343.88 348.27,344.98 347.30,344.39 346.33,344.98 346.60,343.88 345.73,343.14 346.86,343.05" fill="#222" stroke="#222" stroke-width="0.35" stroke-linejoin="round"/>
<line x1="342.80" y1="371.50" x2="367.75" y2="371.50" stroke="#222" stroke-width="1.1"/>
<line x1="342.80" y1="371.10" x2="342.80" y2="373.70" stroke="#222" stroke-width="1.1"/>
<line x1="367.75" y1="371.10" x2="367.75" y2="373.70" stroke="#222" stroke-width="1.1"/>
<polygon points="350.77,365.00 351.21,366.05 352.34,366.14 351.48,366.88 351.74,367.98 350.77,367.39 349.81,367.98 350.07,366.88 349.21,366.14 350.34,366.05" fill="#222" stroke="#222" stroke-width="0.35" stroke-linejoin="round"/>
<polygon points="355.27,365.00 355.71,366.05 356.84,366.14 355.98,366.88 356.24,367.98 355.27,367.39 354.31,367.98 354.57,366.88 353.71,366.14 354.84,366.05" fill="#222" stroke="#222" stroke-width="0.35" stroke-linejoin="round"/>
<polygon points="359.77,365.00 360.21,366.05 361.34,366.14 360.48,366.88 360.74,367.98 359.77,367.39 358.81,367.98 359.07,366.88 358.21,366.14 359.34,366.05" fill="#222" stroke="#222" stroke-width="0.35" stroke-linejoin="round"/>
<line x1="367.75" y1="326.20" x2="467.55" y2="326.20" stroke="#222" stroke-width="1.1"/>
<line x1="367.75" y1="325.80" x2="367.75" y2="328.40" stroke="#222" stroke-width="1.1"/>
<line x1="467.55" y1="325.80" x2="467.55" y2="328.40" stroke="#222" stroke-width="1.1"/>
<polygon points="413.15,319.90 413.59,320.95 414.72,321.04 413.85,321.78 414.12,322.88 413.15,322.29 412.18,322.88 412.45,321.78 411.58,321.04 412.71,320.95" fill="#222" stroke="#222" stroke-width="0.35" stroke-linejoin="round"/>
<polygon points="417.65,319.90 418.09,320.95 419.22,321.04 418.35,321.78 418.62,322.88 417.65,322.29 416.68,322.88 416.95,321.78 416.08,321.04 417.21,320.95" fill="#222" stroke="#222" stroke-width="0.35" stroke-linejoin="round"/>
<polygon points="422.15,319.90 422.59,320.95 423.72,321.04 422.85,321.78 423.12,322.88 422.15,322.29 421.18,322.88 421.45,321.78 420.58,321.04 421.71,320.95" fill="#222" stroke="#222" stroke-width="0.35" stroke-linejoin="round"/>
<text x="0.90" y="527.00" font-size="11" text-anchor="start" font-weight="bold" fill="#111" style="stroke:#111;stroke-width:0.35px">H</text>
<line x1="41.50" y1="532.20" x2="41.50" y2="665.30" stroke="#2a2a2a" stroke-width="1.35"/>
<line x1="38.30" y1="664.80" x2="41.50" y2="664.80" stroke="#2a2a2a" stroke-width="1.0"/>
<text transform="translate(35.00,667.60) scale(0.95,1)" font-size="8.988000000000001" text-anchor="end" font-weight="normal" fill="#3a3a3a" >0</text>
<line x1="38.30" y1="632.40" x2="41.50" y2="632.40" stroke="#2a2a2a" stroke-width="1.0"/>
<text transform="translate(35.00,635.20) scale(0.95,1)" font-size="8.988000000000001" text-anchor="end" font-weight="normal" fill="#3a3a3a" >2</text>
<line x1="38.30" y1="600.00" x2="41.50" y2="600.00" stroke="#2a2a2a" stroke-width="1.0"/>
<text transform="translate(35.00,602.80) scale(0.95,1)" font-size="8.988000000000001" text-anchor="end" font-weight="normal" fill="#3a3a3a" >4</text>
<line x1="38.30" y1="567.60" x2="41.50" y2="567.60" stroke="#2a2a2a" stroke-width="1.0"/>
<text transform="translate(35.00,570.40) scale(0.95,1)" font-size="8.988000000000001" text-anchor="end" font-weight="normal" fill="#3a3a3a" >6</text>
<line x1="38.30" y1="535.20" x2="41.50" y2="535.20" stroke="#2a2a2a" stroke-width="1.0"/>
<text transform="translate(35.00,538.00) scale(0.95,1)" font-size="8.988000000000001" text-anchor="end" font-weight="normal" fill="#3a3a3a" >8</text>
<line x1="41.50" y1="664.80" x2="250.00" y2="664.80" stroke="#2a2a2a" stroke-width="1.35"/>
<line x1="58.00" y1="664.80" x2="58.00" y2="667.30" stroke="#2a2a2a" stroke-width="0.9"/>
<line x1="82.95" y1="664.80" x2="82.95" y2="667.30" stroke="#2a2a2a" stroke-width="0.9"/>
<line x1="107.90" y1="664.80" x2="107.90" y2="667.30" stroke="#2a2a2a" stroke-width="0.9"/>
<line x1="132.85" y1="664.80" x2="132.85" y2="667.30" stroke="#2a2a2a" stroke-width="0.9"/>
<line x1="157.80" y1="664.80" x2="157.80" y2="667.30" stroke="#2a2a2a" stroke-width="0.9"/>
<line x1="182.75" y1="664.80" x2="182.75" y2="667.30" stroke="#2a2a2a" stroke-width="0.9"/>
<line x1="207.70" y1="664.80" x2="207.70" y2="667.30" stroke="#2a2a2a" stroke-width="0.9"/>
<line x1="232.65" y1="664.80" x2="232.65" y2="667.30" stroke="#2a2a2a" stroke-width="0.9"/>
<rect x="49.95" y="648.40" width="16.10" height="16.40" fill="#0d4c88"/>
<rect x="50.25" y="648.70" width="15.50" height="16.10" fill="none" stroke="#0a3058" stroke-width="0.6"/>
<circle cx="51.20" cy="646.50" r="1.55" fill="#111"/>
<circle cx="54.60" cy="648.30" r="1.55" fill="#111"/>
<circle cx="58.00" cy="647.20" r="1.55" fill="#111"/>
<circle cx="61.30" cy="648.30" r="1.55" fill="#111"/>
<circle cx="64.70" cy="648.50" r="1.55" fill="#111"/>
<circle cx="54.60" cy="652.30" r="1.55" fill="#111"/>
<rect x="74.90" y="650.00" width="16.10" height="14.80" fill="#0d4c88"/>
<rect x="75.20" y="650.30" width="15.50" height="14.50" fill="none" stroke="#0a3058" stroke-width="0.6"/>
<circle cx="76.15" cy="650.30" r="1.55" fill="#111"/>
<circle cx="79.55" cy="650.30" r="1.55" fill="#111"/>
<circle cx="82.95" cy="650.30" r="1.55" fill="#111"/>
<circle cx="86.35" cy="650.30" r="1.55" fill="#111"/>
<circle cx="89.75" cy="650.30" r="1.55" fill="#111"/>
<rect x="99.85" y="594.60" width="16.10" height="70.20" fill="#c10224"/>
<rect x="100.15" y="594.90" width="15.50" height="69.90" fill="none" stroke="#8e0a22" stroke-width="0.6"/>
<line x1="107.90" y1="590.40" x2="107.90" y2="599.00" stroke="#2a2a2a" stroke-width="1.0"/>
<line x1="104.40" y1="590.40" x2="111.40" y2="590.40" stroke="#2a2a2a" stroke-width="1.0"/>
<line x1="104.40" y1="599.00" x2="111.40" y2="599.00" stroke="#2a2a2a" stroke-width="1.0"/>
<circle cx="107.90" cy="580.90" r="1.55" fill="#111"/>
<circle cx="100.90" cy="586.20" r="1.55" fill="#111"/>
<circle cx="107.90" cy="589.30" r="1.55" fill="#111"/>
<circle cx="100.90" cy="603.10" r="1.55" fill="#111"/>
<circle cx="107.90" cy="602.00" r="1.55" fill="#111"/>
<circle cx="114.20" cy="603.10" r="1.55" fill="#111"/>
<rect x="124.80" y="567.80" width="16.10" height="97.00" fill="#0f6a4e"/>
<rect x="125.10" y="568.10" width="15.50" height="96.70" fill="none" stroke="#0a4a37" stroke-width="0.6"/>
<circle cx="126.25" cy="567.50" r="1.55" fill="#111"/>
<circle cx="132.55" cy="566.00" r="1.55" fill="#111"/>
<circle cx="139.55" cy="567.10" r="1.55" fill="#111"/>
<rect x="149.75" y="648.20" width="16.10" height="16.60" fill="#0d4c88"/>
<rect x="149.75" y="648.20" width="16.10" height="16.60" fill="url(#hb)"/>
<rect x="150.05" y="648.50" width="15.50" height="16.30" fill="none" stroke="#0a3058" stroke-width="0.6"/>
<circle cx="151.30" cy="648.50" r="1.55" fill="#111"/>
<circle cx="154.80" cy="647.00" r="1.55" fill="#111"/>
<circle cx="158.30" cy="648.30" r="1.55" fill="#111"/>
<circle cx="161.80" cy="648.80" r="1.55" fill="#111"/>
<circle cx="164.80" cy="648.80" r="1.55" fill="#111"/>
<rect x="174.70" y="650.80" width="16.10" height="14.00" fill="#0d4c88"/>
<rect x="174.70" y="650.80" width="16.10" height="14.00" fill="url(#hb)"/>
<rect x="175.00" y="651.10" width="15.50" height="13.70" fill="none" stroke="#0a3058" stroke-width="0.6"/>
<circle cx="176.75" cy="650.60" r="1.55" fill="#111"/>
<circle cx="179.75" cy="650.50" r="1.55" fill="#111"/>
<circle cx="182.75" cy="650.80" r="1.55" fill="#111"/>
<circle cx="185.75" cy="650.50" r="1.55" fill="#111"/>
<circle cx="188.75" cy="650.80" r="1.55" fill="#111"/>
<rect x="199.65" y="642.30" width="16.10" height="22.50" fill="#c10224"/>
<rect x="199.65" y="642.30" width="16.10" height="22.50" fill="url(#hb)"/>
<rect x="199.95" y="642.60" width="15.50" height="22.20" fill="none" stroke="#8e0a22" stroke-width="0.6"/>
<line x1="207.70" y1="638.70" x2="207.70" y2="646.00" stroke="#2a2a2a" stroke-width="1.0"/>
<line x1="204.20" y1="638.70" x2="211.20" y2="638.70" stroke="#2a2a2a" stroke-width="1.0"/>
<line x1="204.20" y1="646.00" x2="211.20" y2="646.00" stroke="#2a2a2a" stroke-width="1.0"/>
<circle cx="201.30" cy="633.40" r="1.55" fill="#111"/>
<circle cx="207.70" cy="634.90" r="1.55" fill="#111"/>
<circle cx="214.00" cy="633.40" r="1.55" fill="#111"/>
<circle cx="201.30" cy="650.80" r="1.55" fill="#111"/>
<circle cx="207.70" cy="650.80" r="1.55" fill="#111"/>
<circle cx="214.00" cy="650.80" r="1.55" fill="#111"/>
<rect x="224.60" y="650.10" width="16.10" height="14.70" fill="#0f6a4e"/>
<rect x="224.60" y="650.10" width="16.10" height="14.70" fill="url(#hb)"/>
<rect x="224.90" y="650.40" width="15.50" height="14.40" fill="none" stroke="#0a4a37" stroke-width="0.6"/>
<circle cx="226.65" cy="650.20" r="1.55" fill="#111"/>
<circle cx="230.65" cy="650.00" r="1.55" fill="#111"/>
<circle cx="234.65" cy="650.00" r="1.55" fill="#111"/>
<circle cx="238.65" cy="650.20" r="1.55" fill="#111"/>
<text transform="translate(61.60,675.40) rotate(-45) scale(0.93,1)" x="0" y="0" font-size="8.2" text-anchor="end" fill="#3a3a3a">CTL</text>
<text transform="translate(85.55,675.40) rotate(-45) scale(0.93,1)" x="0" y="0" font-size="8.2" text-anchor="end" fill="#3a3a3a">HbA</text>
<text transform="translate(110.50,675.40) rotate(-45) scale(0.93,1)" x="0" y="0" font-size="8.2" text-anchor="end" fill="#3a3a3a">HbS</text>
<text transform="translate(135.45,675.40) rotate(-45) scale(0.93,1)" x="0" y="0" font-size="8.2" text-anchor="end" fill="#3a3a3a">LPS</text>
<text transform="translate(159.80,675.40) rotate(-45) scale(0.93,1)" x="0" y="0" font-size="8.2" text-anchor="end" fill="#3a3a3a">CTL (KO-TLR4)</text>
<text transform="translate(186.15,675.40) rotate(-45) scale(0.93,1)" x="0" y="0" font-size="8.2" text-anchor="end" fill="#3a3a3a">HbA (KO-TLR4)</text>
<text transform="translate(209.90,675.40) rotate(-45) scale(0.93,1)" x="0" y="0" font-size="8.2" text-anchor="end" fill="#3a3a3a">HbS (KO-TLR4)</text>
<text transform="translate(235.95,675.40) rotate(-45) scale(0.93,1)" x="0" y="0" font-size="8.2" text-anchor="end" fill="#3a3a3a">LPS (KO-TLR4)</text>
<text transform="translate(23.00,600.00) rotate(-90)" x="-69.50" y="0" font-size="8.8" text-anchor="start" dominant-baseline="central" fill="#3a3a3a" textLength="139" lengthAdjust="spacingAndGlyphs">NF-κB activation level (relative to control)</text>
<line x1="58.00" y1="549.60" x2="107.90" y2="549.60" stroke="#222" stroke-width="1.1"/>
<line x1="58.00" y1="549.20" x2="58.00" y2="551.80" stroke="#222" stroke-width="1.1"/>
<line x1="107.90" y1="549.20" x2="107.90" y2="551.80" stroke="#222" stroke-width="1.1"/>
<polygon points="78.55,542.50 78.99,543.55 80.12,543.64 79.25,544.38 79.52,545.48 78.55,544.89 77.58,545.48 77.85,544.38 76.98,543.64 78.11,543.55" fill="#222" stroke="#222" stroke-width="0.35" stroke-linejoin="round"/>
<polygon points="82.95,542.50 83.39,543.55 84.52,543.64 83.65,544.38 83.92,545.48 82.95,544.89 81.98,545.48 82.25,544.38 81.38,543.64 82.51,543.55" fill="#222" stroke="#222" stroke-width="0.35" stroke-linejoin="round"/>
<polygon points="87.35,542.50 87.79,543.55 88.92,543.64 88.05,544.38 88.32,545.48 87.35,544.89 86.38,545.48 86.65,544.38 85.78,543.64 86.91,543.55" fill="#222" stroke="#222" stroke-width="0.35" stroke-linejoin="round"/>
<line x1="82.95" y1="572.40" x2="107.90" y2="572.40" stroke="#222" stroke-width="1.1"/>
<line x1="82.95" y1="572.00" x2="82.95" y2="574.60" stroke="#222" stroke-width="1.1"/>
<line x1="107.90" y1="572.00" x2="107.90" y2="574.60" stroke="#222" stroke-width="1.1"/>
<polygon points="91.03,565.40 91.46,566.45 92.59,566.54 91.73,567.28 91.99,568.38 91.03,567.79 90.06,568.38 90.32,567.28 89.46,566.54 90.59,566.45" fill="#222" stroke="#222" stroke-width="0.35" stroke-linejoin="round"/>
<polygon points="95.43,565.40 95.86,566.45 96.99,566.54 96.13,567.28 96.39,568.38 95.43,567.79 94.46,568.38 94.72,567.28 93.86,566.54 94.99,566.45" fill="#222" stroke="#222" stroke-width="0.35" stroke-linejoin="round"/>
<polygon points="99.83,565.40 100.26,566.45 101.39,566.54 100.53,567.28 100.79,568.38 99.83,567.79 98.86,568.38 99.12,567.28 98.26,566.54 99.39,566.45" fill="#222" stroke="#222" stroke-width="0.35" stroke-linejoin="round"/>
<line x1="107.90" y1="527.15" x2="207.70" y2="527.15" stroke="#222" stroke-width="1.1"/>
<line x1="107.90" y1="526.75" x2="107.90" y2="529.35" stroke="#222" stroke-width="1.1"/>
<line x1="207.70" y1="526.75" x2="207.70" y2="529.35" stroke="#222" stroke-width="1.1"/>
<polygon points="153.40,520.60 153.84,521.65 154.97,521.74 154.10,522.48 154.37,523.58 153.40,522.99 152.43,523.58 152.70,522.48 151.83,521.74 152.96,521.65" fill="#222" stroke="#222" stroke-width="0.35" stroke-linejoin="round"/>
<polygon points="157.80,520.60 158.24,521.65 159.37,521.74 158.50,522.48 158.77,523.58 157.80,522.99 156.83,523.58 157.10,522.48 156.23,521.74 157.36,521.65" fill="#222" stroke="#222" stroke-width="0.35" stroke-linejoin="round"/>
<polygon points="162.20,520.60 162.64,521.65 163.77,521.74 162.90,522.48 163.17,523.58 162.20,522.99 161.23,523.58 161.50,522.48 160.63,521.74 161.76,521.65" fill="#222" stroke="#222" stroke-width="0.35" stroke-linejoin="round"/>
<text x="265.60" y="527.00" font-size="11" text-anchor="start" font-weight="bold" fill="#111" style="stroke:#111;stroke-width:0.35px">I</text>
<line x1="301.35" y1="532.10" x2="301.35" y2="665.30" stroke="#2a2a2a" stroke-width="1.35"/>
<line x1="298.15" y1="664.80" x2="301.35" y2="664.80" stroke="#2a2a2a" stroke-width="1.0"/>
<text transform="translate(294.85,667.60) scale(0.95,1)" font-size="8.988000000000001" text-anchor="end" font-weight="normal" fill="#3a3a3a" >0</text>
<line x1="298.15" y1="638.86" x2="301.35" y2="638.86" stroke="#2a2a2a" stroke-width="1.0"/>
<text transform="translate(294.85,641.66) scale(0.95,1)" font-size="8.988000000000001" text-anchor="end" font-weight="normal" fill="#3a3a3a" >1</text>
<line x1="298.15" y1="612.92" x2="301.35" y2="612.92" stroke="#2a2a2a" stroke-width="1.0"/>
<text transform="translate(294.85,615.72) scale(0.95,1)" font-size="8.988000000000001" text-anchor="end" font-weight="normal" fill="#3a3a3a" >2</text>
<line x1="298.15" y1="586.98" x2="301.35" y2="586.98" stroke="#2a2a2a" stroke-width="1.0"/>
<text transform="translate(294.85,589.78) scale(0.95,1)" font-size="8.988000000000001" text-anchor="end" font-weight="normal" fill="#3a3a3a" >3</text>
<line x1="298.15" y1="561.04" x2="301.35" y2="561.04" stroke="#2a2a2a" stroke-width="1.0"/>
<text transform="translate(294.85,563.84) scale(0.95,1)" font-size="8.988000000000001" text-anchor="end" font-weight="normal" fill="#3a3a3a" >4</text>
<line x1="298.15" y1="535.10" x2="301.35" y2="535.10" stroke="#2a2a2a" stroke-width="1.0"/>
<text transform="translate(294.85,537.90) scale(0.95,1)" font-size="8.988000000000001" text-anchor="end" font-weight="normal" fill="#3a3a3a" >5</text>
<line x1="301.35" y1="664.80" x2="509.60" y2="664.80" stroke="#2a2a2a" stroke-width="1.35"/>
<line x1="317.85" y1="664.80" x2="317.85" y2="667.30" stroke="#2a2a2a" stroke-width="0.9"/>
<line x1="342.80" y1="664.80" x2="342.80" y2="667.30" stroke="#2a2a2a" stroke-width="0.9"/>
<line x1="367.75" y1="664.80" x2="367.75" y2="667.30" stroke="#2a2a2a" stroke-width="0.9"/>
<line x1="392.70" y1="664.80" x2="392.70" y2="667.30" stroke="#2a2a2a" stroke-width="0.9"/>
<line x1="417.65" y1="664.80" x2="417.65" y2="667.30" stroke="#2a2a2a" stroke-width="0.9"/>
<line x1="442.60" y1="664.80" x2="442.60" y2="667.30" stroke="#2a2a2a" stroke-width="0.9"/>
<line x1="467.55" y1="664.80" x2="467.55" y2="667.30" stroke="#2a2a2a" stroke-width="0.9"/>
<line x1="492.50" y1="664.80" x2="492.50" y2="667.30" stroke="#2a2a2a" stroke-width="0.9"/>
<rect x="309.80" y="639.20" width="16.10" height="25.60" fill="#0d4c88"/>
<rect x="310.10" y="639.50" width="15.50" height="25.30" fill="none" stroke="#0a3058" stroke-width="0.6"/>
<circle cx="314.35" cy="638.30" r="1.55" fill="#111"/>
<circle cx="317.85" cy="636.60" r="1.55" fill="#111"/>
<circle cx="321.35" cy="638.30" r="1.55" fill="#111"/>
<circle cx="324.75" cy="640.40" r="1.55" fill="#111"/>
<circle cx="311.05" cy="640.00" r="1.55" fill="#111"/>
<rect x="334.75" y="648.80" width="16.10" height="16.00" fill="#0d4c88"/>
<rect x="335.05" y="649.10" width="15.50" height="15.70" fill="none" stroke="#0a3058" stroke-width="0.6"/>
<line x1="342.80" y1="645.00" x2="342.80" y2="652.00" stroke="#2a2a2a" stroke-width="1.0"/>
<line x1="339.30" y1="645.00" x2="346.30" y2="645.00" stroke="#2a2a2a" stroke-width="1.0"/>
<line x1="339.30" y1="652.00" x2="346.30" y2="652.00" stroke="#2a2a2a" stroke-width="1.0"/>
<circle cx="337.60" cy="650.00" r="1.55" fill="#111"/>
<circle cx="343.30" cy="646.50" r="1.55" fill="#111"/>
<circle cx="349.50" cy="643.50" r="1.55" fill="#111"/>
<circle cx="349.50" cy="650.50" r="1.55" fill="#111"/>
<circle cx="343.30" cy="650.50" r="1.55" fill="#111"/>
<rect x="359.70" y="616.50" width="16.10" height="48.30" fill="#c10224"/>
<rect x="360.00" y="616.80" width="15.50" height="48.00" fill="none" stroke="#8e0a22" stroke-width="0.6"/>
<line x1="367.75" y1="613.10" x2="367.75" y2="620.00" stroke="#2a2a2a" stroke-width="1.0"/>
<line x1="364.25" y1="613.10" x2="371.25" y2="613.10" stroke="#2a2a2a" stroke-width="1.0"/>
<line x1="364.25" y1="620.00" x2="371.25" y2="620.00" stroke="#2a2a2a" stroke-width="1.0"/>
<circle cx="367.45" cy="601.10" r="1.55" fill="#111"/>
<circle cx="364.45" cy="613.10" r="1.55" fill="#111"/>
<circle cx="370.25" cy="613.80" r="1.55" fill="#111"/>
<circle cx="361.05" cy="622.30" r="1.55" fill="#111"/>
<circle cx="373.75" cy="622.30" r="1.55" fill="#111"/>
<circle cx="371.35" cy="616.50" r="1.55" fill="#111"/>
<rect x="384.65" y="563.30" width="16.10" height="101.50" fill="#0f6a4e"/>
<rect x="384.95" y="563.60" width="15.50" height="101.20" fill="none" stroke="#0a4a37" stroke-width="0.6"/>
<line x1="392.70" y1="555.10" x2="392.70" y2="570.90" stroke="#2a2a2a" stroke-width="1.0"/>
<line x1="389.20" y1="555.10" x2="396.20" y2="555.10" stroke="#2a2a2a" stroke-width="1.0"/>
<line x1="389.20" y1="570.90" x2="396.20" y2="570.90" stroke="#2a2a2a" stroke-width="1.0"/>
<circle cx="392.20" cy="549.80" r="1.55" fill="#111"/>
<circle cx="392.20" cy="562.90" r="1.55" fill="#111"/>
<circle cx="392.20" cy="576.00" r="1.55" fill="#111"/>
<rect x="409.60" y="639.20" width="16.10" height="25.60" fill="#0d4c88"/>
<rect x="409.60" y="639.20" width="16.10" height="25.60" fill="url(#hb)"/>
<rect x="409.90" y="639.50" width="15.50" height="25.30" fill="none" stroke="#0a3058" stroke-width="0.6"/>
<circle cx="412.15" cy="637.50" r="1.55" fill="#111"/>
<circle cx="415.65" cy="638.50" r="1.55" fill="#111"/>
<circle cx="419.15" cy="639.00" r="1.55" fill="#111"/>
<circle cx="422.65" cy="639.00" r="1.55" fill="#111"/>
<circle cx="412.15" cy="639.50" r="1.55" fill="#111"/>
<rect x="434.55" y="650.50" width="16.10" height="14.30" fill="#0d4c88"/>
<rect x="434.55" y="650.50" width="16.10" height="14.30" fill="url(#hb)"/>
<rect x="434.85" y="650.80" width="15.50" height="14.00" fill="none" stroke="#0a3058" stroke-width="0.6"/>
<circle cx="436.60" cy="650.00" r="1.55" fill="#111"/>
<circle cx="440.10" cy="648.00" r="1.55" fill="#111"/>
<circle cx="443.60" cy="649.50" r="1.55" fill="#111"/>
<circle cx="447.60" cy="650.50" r="1.55" fill="#111"/>
<rect x="459.50" y="647.70" width="16.10" height="17.10" fill="#c10224"/>
<rect x="459.50" y="647.70" width="16.10" height="17.10" fill="url(#hb)"/>
<rect x="459.80" y="648.00" width="15.50" height="16.80" fill="none" stroke="#8e0a22" stroke-width="0.6"/>
<circle cx="461.55" cy="647.50" r="1.55" fill="#111"/>
<circle cx="465.05" cy="645.00" r="1.55" fill="#111"/>
<circle cx="468.55" cy="646.80" r="1.55" fill="#111"/>
<circle cx="472.05" cy="647.50" r="1.55" fill="#111"/>
<circle cx="474.35" cy="645.00" r="1.55" fill="#111"/>
<rect x="484.45" y="637.30" width="16.10" height="27.50" fill="#0f6a4e"/>
<rect x="484.45" y="637.30" width="16.10" height="27.50" fill="url(#hb)"/>
<rect x="484.75" y="637.60" width="15.50" height="27.20" fill="none" stroke="#0a4a37" stroke-width="0.6"/>
<circle cx="489.50" cy="634.00" r="1.55" fill="#111"/>
<circle cx="492.50" cy="635.50" r="1.55" fill="#111"/>
<circle cx="496.00" cy="636.50" r="1.55" fill="#111"/>
<text transform="translate(321.45,675.40) rotate(-45) scale(0.93,1)" x="0" y="0" font-size="8.2" text-anchor="end" fill="#3a3a3a">CTL</text>
<text transform="translate(345.40,675.40) rotate(-45) scale(0.93,1)" x="0" y="0" font-size="8.2" text-anchor="end" fill="#3a3a3a">HbA</text>
<text transform="translate(370.35,675.40) rotate(-45) scale(0.93,1)" x="0" y="0" font-size="8.2" text-anchor="end" fill="#3a3a3a">HbS</text>
<text transform="translate(395.30,675.40) rotate(-45) scale(0.93,1)" x="0" y="0" font-size="8.2" text-anchor="end" fill="#3a3a3a">LPS</text>
<text transform="translate(419.65,675.40) rotate(-45) scale(0.93,1)" x="0" y="0" font-size="8.2" text-anchor="end" fill="#3a3a3a">CTL (KO-TLR4)</text>
<text transform="translate(446.00,675.40) rotate(-45) scale(0.93,1)" x="0" y="0" font-size="8.2" text-anchor="end" fill="#3a3a3a">HbA (KO-TLR4)</text>
<text transform="translate(469.75,675.40) rotate(-45) scale(0.93,1)" x="0" y="0" font-size="8.2" text-anchor="end" fill="#3a3a3a">HbS (KO-TLR4)</text>
<text transform="translate(495.80,675.40) rotate(-45) scale(0.93,1)" x="0" y="0" font-size="8.2" text-anchor="end" fill="#3a3a3a">LPS (KO-TLR4)</text>
<text transform="translate(282.10,597.20) rotate(-90)" x="-76.00" y="0" font-size="8.8" text-anchor="start" dominant-baseline="central" fill="#3a3a3a" textLength="152" lengthAdjust="spacingAndGlyphs">IFN (type I) activation level (relative to control)</text>
<line x1="317.85" y1="549.60" x2="367.75" y2="549.60" stroke="#222" stroke-width="1.1"/>
<line x1="317.85" y1="549.20" x2="317.85" y2="551.80" stroke="#222" stroke-width="1.1"/>
<line x1="367.75" y1="549.20" x2="367.75" y2="551.80" stroke="#222" stroke-width="1.1"/>
<polygon points="338.40,542.50 338.84,543.55 339.97,543.64 339.10,544.38 339.37,545.48 338.40,544.89 337.43,545.48 337.70,544.38 336.83,543.64 337.96,543.55" fill="#222" stroke="#222" stroke-width="0.35" stroke-linejoin="round"/>
<polygon points="342.80,542.50 343.24,543.55 344.37,543.64 343.50,544.38 343.77,545.48 342.80,544.89 341.83,545.48 342.10,544.38 341.23,543.64 342.36,543.55" fill="#222" stroke="#222" stroke-width="0.35" stroke-linejoin="round"/>
<polygon points="347.20,542.50 347.64,543.55 348.77,543.64 347.90,544.38 348.17,545.48 347.20,544.89 346.23,545.48 346.50,544.38 345.63,543.64 346.76,543.55" fill="#222" stroke="#222" stroke-width="0.35" stroke-linejoin="round"/>
<line x1="342.80" y1="572.40" x2="367.75" y2="572.40" stroke="#222" stroke-width="1.1"/>
<line x1="342.80" y1="572.00" x2="342.80" y2="574.60" stroke="#222" stroke-width="1.1"/>
<line x1="367.75" y1="572.00" x2="367.75" y2="574.60" stroke="#222" stroke-width="1.1"/>
<polygon points="350.88,565.40 351.31,566.45 352.44,566.54 351.58,567.28 351.84,568.38 350.88,567.79 349.91,568.38 350.17,567.28 349.31,566.54 350.44,566.45" fill="#222" stroke="#222" stroke-width="0.35" stroke-linejoin="round"/>
<polygon points="355.27,565.40 355.71,566.45 356.84,566.54 355.98,567.28 356.24,568.38 355.27,567.79 354.31,568.38 354.57,567.28 353.71,566.54 354.84,566.45" fill="#222" stroke="#222" stroke-width="0.35" stroke-linejoin="round"/>
<polygon points="359.67,565.40 360.11,566.45 361.24,566.54 360.38,567.28 360.64,568.38 359.67,567.79 358.71,568.38 358.97,567.28 358.11,566.54 359.24,566.45" fill="#222" stroke="#222" stroke-width="0.35" stroke-linejoin="round"/>
<line x1="367.75" y1="527.15" x2="467.55" y2="527.15" stroke="#222" stroke-width="1.1"/>
<line x1="367.75" y1="526.75" x2="367.75" y2="529.35" stroke="#222" stroke-width="1.1"/>
<line x1="467.55" y1="526.75" x2="467.55" y2="529.35" stroke="#222" stroke-width="1.1"/>
<polygon points="413.25,520.60 413.69,521.65 414.82,521.74 413.95,522.48 414.22,523.58 413.25,522.99 412.28,523.58 412.55,522.48 411.68,521.74 412.81,521.65" fill="#222" stroke="#222" stroke-width="0.35" stroke-linejoin="round"/>
<polygon points="417.65,520.60 418.09,521.65 419.22,521.74 418.35,522.48 418.62,523.58 417.65,522.99 416.68,523.58 416.95,522.48 416.08,521.74 417.21,521.65" fill="#222" stroke="#222" stroke-width="0.35" stroke-linejoin="round"/>
<polygon points="422.05,520.60 422.49,521.65 423.62,521.74 422.75,522.48 423.02,523.58 422.05,522.99 421.08,523.58 421.35,522.48 420.48,521.74 421.61,521.65" fill="#222" stroke="#222" stroke-width="0.35" stroke-linejoin="round"/>
</svg>
</body></html>
